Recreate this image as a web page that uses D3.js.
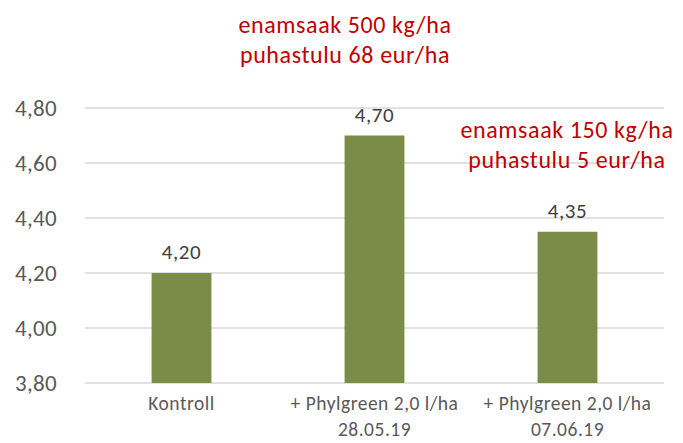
<!DOCTYPE html>
<html>
<head>
<meta charset="utf-8">
<script src="https://cdn.jsdelivr.net/npm/d3@7"></script>
<style>
  body { margin: 0; background: #fff; }
  svg text { font-family: Carlito, Calibri, Lato, sans-serif; }
</style>
</head>
<body>
<div id="chart"></div>
<script>
var categories = [["Kontroll"], ["+ Phylgreen 2,0 l/ha", "28.05.19"], ["+ Phylgreen 2,0 l/ha", "07.06.19"]];
var values = [4.20, 4.70, 4.35];
var yTicks = [3.80, 4.00, 4.20, 4.40, 4.60, 4.80];
var notes = [
  ["enamsaak 500 kg/ha", "puhastulu 68 eur/ha"],
  ["enamsaak 150 kg/ha", "puhastulu 5 eur/ha"]
];

var width = 683;
var height = 443;
var plotLeft = 85, plotRight = 664, plotTop = 108, plotBottom = 383;

var fmt = function(v) { return v.toFixed(2).replace(".", ","); };

var svg = d3.select("#chart").append("svg")
  .attr("width", width)
  .attr("height", height);

/* Scales */
var x = d3.scaleBand()
  .domain(d3.range(values.length))
  .range([plotLeft, plotRight])
  .paddingInner(0.69)
  .paddingOuter(0.345);

var y = d3.scaleLinear()
  .domain([3.8, 4.8])
  .range([plotBottom, plotTop]);

/* Grid */
svg.append("g")
  .selectAll("line")
  .data(yTicks).enter()
  .append("line")
  .attr("x1", plotLeft)
  .attr("x2", plotRight)
  .attr("y1", d => y(d))
  .attr("y2", d => y(d))
  .attr("stroke", "#d9d9d9")
  .attr("stroke-width", 1.3);

/* Y axis labels */
var yAxis = d3.axisLeft(y).tickValues(yTicks).tickFormat(fmt).tickSize(0).tickPadding(28);
svg.append("g")
  .attr("transform", `translate(${plotLeft}, 0)`)
  .call(yAxis)
  .call(g => g.select(".domain").remove())
  .selectAll("text")
  .attr("fill", "#595959")
  .style("font-size", "23px")
  .style("letter-spacing", "0.3px");

/* Bars */
svg.append("g")
  .selectAll("rect")
  .data(values).enter()
  .append("rect")
  .attr("x", (d, i) => x(i))
  .attr("y", d => y(d))
  .attr("width", x.bandwidth())
  .attr("height", d => y(3.8) - y(d))
  .attr("fill", "#7a8c47");

/* Value labels */
svg.append("g")
  .selectAll("text")
  .data(values).enter()
  .append("text")
  .attr("x", (d, i) => x(i) + x.bandwidth() / 2)
  .attr("y", d => y(d) - 14)
  .attr("text-anchor", "middle")
  .attr("fill", "#404040")
  .style("font-size", "21px")
  .style("letter-spacing", "0.6px")
  .text(fmt);

/* Category labels */
var cats = svg.append("g")
  .selectAll("text")
  .data(categories).enter()
  .append("text")
  .attr("x", (d, i) => x(i) + x.bandwidth() / 2)
  .attr("y", 410)
  .attr("text-anchor", "middle")
  .attr("fill", "#595959")
  .style("font-size", "19.5px")
  .style("letter-spacing", "0.5px");
cats.selectAll("tspan")
  .data(d => d).enter()
  .append("tspan")
  .attr("x", function() { return d3.select(this.parentNode).attr("x"); })
  .attr("dy", (d, i) => i ? 26 : 0)
  .text(d => d);

/* Annotations */
var notePos = [{x: 345, y: 33}, {x: 567, y: 138}];
notes.forEach(function(n, k) {
  svg.append("text")
    .attr("x", notePos[k].x)
    .attr("y", notePos[k].y)
    .attr("text-anchor", "middle")
    .attr("fill", "#c00000")
    .style("font-size", "24px")
    .style("letter-spacing", "0.6px")
    .selectAll("tspan")
    .data(n).enter()
    .append("tspan")
    .attr("x", notePos[k].x)
    .attr("dy", (d, i) => i ? 30 : 0)
    .text(d => d);
});
</script>
</body>
</html>
